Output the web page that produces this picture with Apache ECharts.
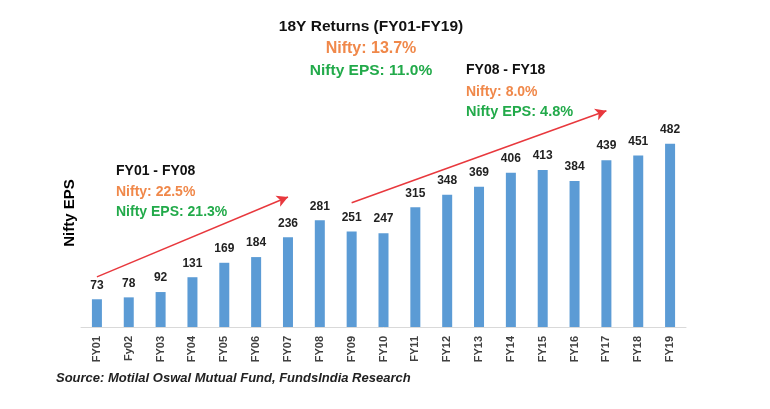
<!DOCTYPE html>
<html>
<head>
<meta charset="utf-8">
<script src="https://cdn.jsdelivr.net/npm/echarts@6/dist/echarts.min.js"></script>
<style>
html,body{margin:0;padding:0;background:#fff;}
#chart{width:770px;height:409px;}
</style>
</head>
<body>
<div id="chart"></div>
<script>
var categories = ['FY01','Fy02','FY03','FY04','FY05','FY06','FY07','FY08','FY09','FY10','FY11','FY12','FY13','FY14','FY15','FY16','FY17','FY18','FY19'];
var epsValues = [73,78,92,131,169,184,236,281,251,247,315,348,369,406,413,384,439,451,482];
// trend arrows: [fromIndex, fromValue, toIndex, toValue]
var arrow1 = [0, 132, 6.3, 342];
var arrow2 = [7.95, 327, 16.1, 569];

var FONT = '"Liberation Sans", Arial, sans-serif';
var chart = echarts.init(document.getElementById('chart'));
function txt(x, y, text, color, size, align) {
  return {type:'text', x:x, y:y, style:{text:text, fill:color, font:'bold '+size+'px '+FONT, textAlign:align||'left', textVerticalAlign:'middle'}};
}
var option = {
  backgroundColor:'#fff',
  animation:false,
  grid:{left:81, right:84, top:99, bottom:82},
  xAxis:{
    type:'category', data:categories,
    axisLine:{lineStyle:{color:'#d9d9d9', width:1}},
    axisTick:{show:false},
    axisLabel:{rotate:90, color:'#404040', fontSize:11, fontWeight:'bold', fontFamily:FONT, margin:9, interval:0}
  },
  yAxis:{
    type:'value', min:0, max:600,
    axisLine:{show:false}, axisTick:{show:false}, axisLabel:{show:false}, splitLine:{show:false},
    name:'Nifty EPS', nameLocation:'middle', nameGap:4, nameRotate:90,
    nameTextStyle:{color:'#000', fontSize:15, fontWeight:'bold', fontFamily:FONT}
  },
  series:[{
    type:'bar', data:epsValues, barWidth:10,
    itemStyle:{color:'#5B9BD5'},
    label:{show:true, position:'top', distance:8, color:'#222', fontSize:12, fontWeight:'bold', fontFamily:FONT},
    markLine:{
      silent:true, symbol:['none','arrow'], symbolSize:[9,11],
      lineStyle:{color:'#E8383D', width:1.5, type:'solid'},
      label:{show:false},
      data:[
        [{coord:[arrow1[0], arrow1[1]]},{coord:[arrow1[2], arrow1[3]]}],
        [{coord:[arrow2[0], arrow2[1]]},{coord:[arrow2[2], arrow2[3]]}]
      ]
    }
  }],
  graphic:[
    txt(371, 27, '18Y Returns (FY01-FY19)', '#111', 15.5, 'center'),
    txt(371, 49, 'Nifty: 13.7%', '#F0884A', 16, 'center'),
    txt(371, 71, 'Nifty EPS: 11.0%', '#22AA4A', 15.5, 'center'),
    txt(466, 70, 'FY08 - FY18', '#111', 14),
    txt(466, 92, 'Nifty: 8.0%', '#F0884A', 14),
    txt(466, 112, 'Nifty EPS: 4.8%', '#22AA4A', 14.5),
    txt(116, 171, 'FY01 - FY08', '#111', 14),
    txt(116, 192, 'Nifty: 22.5%', '#F0884A', 14),
    txt(116, 212, 'Nifty EPS: 21.3%', '#22AA4A', 14),
    {type:'text', x:56, y:378, style:{text:'Source: Motilal Oswal Mutual Fund, FundsIndia Research', fill:'#222', font:'italic bold 13px '+FONT, textVerticalAlign:'middle'}}
  ]
};
chart.setOption(option);
</script>
</body>
</html>
